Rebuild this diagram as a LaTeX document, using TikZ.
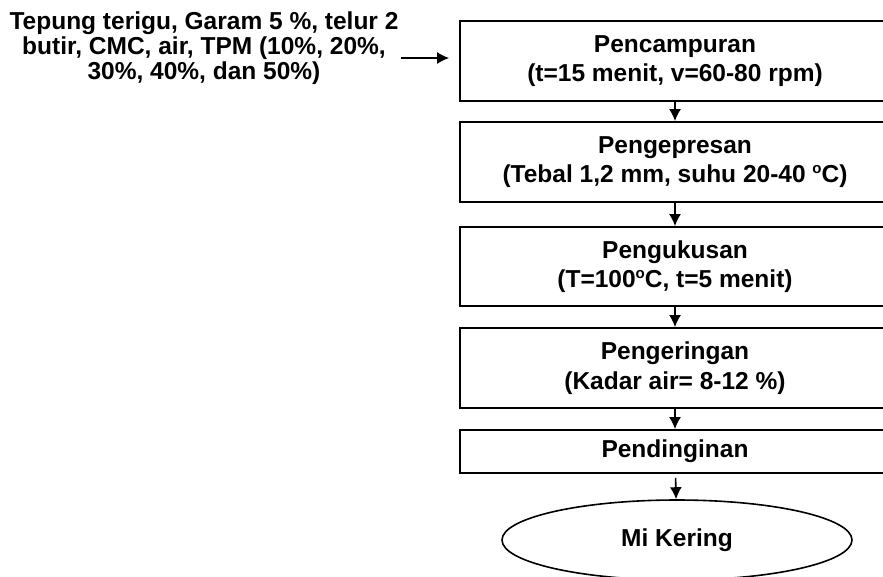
\documentclass[tikz,border=0pt]{standalone}
\usepackage{fontspec}
\setmainfont{Liberation Sans}
\usetikzlibrary{shapes.geometric, arrows.meta}
\newcommand{\degsym}{\raisebox{9pt}{\fontsize{15}{15}\selectfont o}}

\begin{document}
\begin{tikzpicture}[x=1pt, y=-1pt,
    txt/.style={font=\bfseries\fontsize{24.5}{25}\selectfont, align=center, inner sep=0pt},
    proc/.style={txt, font=\bfseries\fontsize{24.5}{29.5}\selectfont, draw, line width=1.8pt, minimum width=430pt},
    arr/.style={-{Latex[length=12pt,width=12pt]}, line width=1.6pt}]
    \clip (0,0) rectangle (883,576);

    \node[txt] (in) at (204,48) {Tepung terigu, Garam 5 \%, telur 2\\butir, CMC, air, TPM (10\%, 20\%,\\30\%, 40\%, dan 50\%)};

    \node[proc, minimum height=80pt] (mix) at (675,61) {Pencampuran\\(t=15 menit, v=60-80 rpm)};
    \node[proc, minimum height=80pt] (press) at (675,162) {Pengepresan\\(Tebal 1,2 mm, suhu 20-40 \degsym C)};
    \node[proc, minimum height=79pt] (steam) at (675,266.5) {Pengukusan\\(T=100\degsym C, t=5 menit)};
    \node[proc, minimum height=80pt] (dry) at (675,368) {Pengeringan\\(Kadar air= 8-12 \%)};
    \node[proc, minimum height=43pt] (cool) at (675,451.5) {Pendinginan};
    \node[txt, draw, ellipse, line width=1.6pt, minimum width=350pt, minimum height=80pt] (mi) at (677,540) {Mi Kering};

    \draw[arr, shorten <=2pt, shorten >=10pt] ([yshift=-10pt]in.east) -- ([yshift=-10pt]in.east -| mix.west);
    \draw[arr] (mix) -- (press);
    \draw[arr] (press) -- (steam);
    \draw[arr] (steam) -- (dry);
    \draw[arr] (dry) -- (cool);
    \draw[arr, shorten <=4pt] (cool) -- (mi);
\end{tikzpicture}
\end{document}
